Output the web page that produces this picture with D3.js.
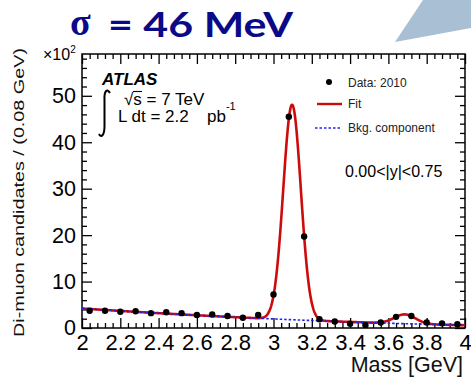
<!DOCTYPE html>
<html>
<head>
<meta charset="utf-8">
<script src="https://cdn.jsdelivr.net/npm/d3@7"></script>
<style>
  html, body { margin: 0; padding: 0; background: #fff; }
  svg { display: block; }
  text { font-family: "Liberation Sans", Arial, Helvetica, sans-serif; }
</style>
</head>
<body>
<svg id="chart" width="471" height="381"></svg>
<script>
// Di-muon invariant mass spectrum, J/psi region (bin width 0.08 GeV), counts in units of 10^2
const massBins = [2.04, 2.12, 2.20, 2.28, 2.36, 2.44, 2.52, 2.60, 2.68, 2.76, 2.84, 2.92,
                  3.00, 3.08, 3.16, 3.24, 3.32, 3.40, 3.48, 3.56, 3.64, 3.72, 3.80, 3.88, 3.96];
const candidates = [3.7, 3.7, 3.5, 3.6, 3.2, 3.4, 3.2, 2.8, 2.9, 2.6, 2.2, 2.8,
                    7.2, 45.5, 19.7, 1.9, 1.4, 0.9, 0.6, 1.2, 2.4, 2.6, 1.2, 1.0, 0.8];

// Fit model: two Gaussian resonances (J/psi, psi(2S)) on a quadratic background in (m - 2 GeV)
const fitPeakMass = [3.097, 3.686];
const fitPeakSigma = [0.046, 0.055];
const fitPeakHeight = [46.3, 2.0];
const bkgCoeffs = [4.2, -2.694, 0.447];

// Axis ticks
const xMajorTicks = [2.0, 2.2, 2.4, 2.6, 2.8, 3.0, 3.2, 3.4, 3.6, 3.8, 4.0];
const yMajorTicks = [0, 10, 20, 30, 40, 50];
const xDomain = [2, 4];
const yDomain = [0, 59];

const svg = d3.select("#chart");
const frame = { left: 82, right: 465, top: 54, bottom: 328 };

const x = d3.scaleLinear().domain(xDomain).range([frame.left, frame.right]);
const y = d3.scaleLinear().domain(yDomain).range([frame.bottom, frame.top]);

const bkg = m => { const t = m - 2; return bkgCoeffs[0] + bkgCoeffs[1] * t + bkgCoeffs[2] * t * t; };
const fit = m => bkg(m) + d3.sum(fitPeakMass, (mu, i) =>
  fitPeakHeight[i] * Math.exp(-0.5 * Math.pow((m - mu) / fitPeakSigma[i], 2)));

// slide decoration in the upper-right corner
svg.append("path")
  .attr("d", "M395,42 L423,0 L471,0 L471,28 Z")
  .attr("fill", "#a9bfd4");

// headline
const title = svg.append("g").attr("fill", "#0a0a88");
title.append("text")
  .attr("x", 70).attr("y", 34.5)
  .style("font-family", "'Liberation Serif', 'DejaVu Serif', serif")
  .style("font-weight", "bold").style("font-size", "38px")
  .text("σ");
title.append("text")
  .attr("x", 108).attr("y", 37)
  .style("font-family", "Lato, 'Open Sans', sans-serif")
  .style("font-weight", "bold").style("font-size", "34px")
  .attr("textLength", 185).attr("lengthAdjust", "spacingAndGlyphs")
  .text("= 46 MeV");

// minor tick values
const xMinor = d3.range(0, 51).map(i => 2 + i * 0.04).filter(v => !xMajorTicks.some(t => Math.abs(t - v) < 1e-6));
const yMinor = d3.range(0, 30).map(i => i * 2).filter(v => v % 10 !== 0 && v <= yDomain[1]);

const fmtX = d => String(+d.toFixed(1));

function styleAxis(g) {
  g.select(".domain").remove();
  g.selectAll(".tick line").attr("stroke", "#000").attr("stroke-width", 1.3);
}

// bottom axis (labels)
svg.append("g").attr("transform", `translate(0,${frame.bottom})`)
  .call(d3.axisBottom(x).tickValues(xMajorTicks).tickFormat(fmtX).tickSizeInner(-10).tickSizeOuter(0).tickPadding(6))
  .call(styleAxis)
  .call(g => g.selectAll(".tick text").attr("fill", "#000").style("font-size", "22px")
    .style("font-family", "'Liberation Sans', Arial, sans-serif").attr("dy", "0.72em"));
svg.append("g").attr("transform", `translate(0,${frame.bottom})`)
  .call(d3.axisBottom(x).tickValues(xMinor).tickFormat("").tickSizeInner(-5).tickSizeOuter(0))
  .call(styleAxis);
// top axis
svg.append("g").attr("transform", `translate(0,${frame.top})`)
  .call(d3.axisTop(x).tickValues(xMajorTicks).tickFormat("").tickSizeInner(-10).tickSizeOuter(0))
  .call(styleAxis);
svg.append("g").attr("transform", `translate(0,${frame.top})`)
  .call(d3.axisTop(x).tickValues(xMinor).tickFormat("").tickSizeInner(-5).tickSizeOuter(0))
  .call(styleAxis);
// left axis (labels)
svg.append("g").attr("transform", `translate(${frame.left},0)`)
  .call(d3.axisLeft(y).tickValues(yMajorTicks).tickFormat(d3.format("d")).tickSizeInner(-10).tickSizeOuter(0).tickPadding(6))
  .call(styleAxis)
  .call(g => g.selectAll(".tick text").attr("fill", "#000").style("font-size", "21.5px")
    .style("font-family", "'Liberation Sans', Arial, sans-serif"));
svg.append("g").attr("transform", `translate(${frame.left},0)`)
  .call(d3.axisLeft(y).tickValues(yMinor).tickFormat("").tickSizeInner(-5).tickSizeOuter(0))
  .call(styleAxis);
// right axis
svg.append("g").attr("transform", `translate(${frame.right},0)`)
  .call(d3.axisRight(y).tickValues(yMajorTicks).tickFormat("").tickSizeInner(-10).tickSizeOuter(0))
  .call(styleAxis);
svg.append("g").attr("transform", `translate(${frame.right},0)`)
  .call(d3.axisRight(y).tickValues(yMinor).tickFormat("").tickSizeInner(-5).tickSizeOuter(0))
  .call(styleAxis);

// plot frame
svg.append("rect")
  .attr("x", frame.left).attr("y", frame.top)
  .attr("width", frame.right - frame.left).attr("height", frame.bottom - frame.top)
  .attr("fill", "none").attr("stroke", "#000").attr("stroke-width", 1.5);

// exponent marker
const expo = svg.append("text").attr("x", 43).attr("y", 60).attr("fill", "#000").style("font-size", "16px");
expo.append("tspan").text("×10");
expo.append("tspan").attr("dy", -7).style("font-size", "10px").text("2");

// axis titles
svg.append("text")
  .attr("transform", "translate(24,337) rotate(-90)")
  .attr("fill", "#111").style("font-size", "15px")
  .attr("textLength", 289).attr("lengthAdjust", "spacingAndGlyphs")
  .text("Di-muon candidates / (0.08 GeV)");
svg.append("text")
  .attr("x", 463).attr("y", 372).attr("text-anchor", "end")
  .attr("fill", "#111").style("font-size", "21.5px")
  .text("Mass [GeV]");

// fit curves
const grid = d3.range(0, 1001).map(i => xDomain[0] + i * (xDomain[1] - xDomain[0]) / 1000);
const line = d3.line().x(d => x(d[0])).y(d => y(d[1]));
svg.append("clipPath").attr("id", "plotClip").append("rect")
  .attr("x", frame.left).attr("y", frame.top)
  .attr("width", frame.right - frame.left).attr("height", frame.bottom - frame.top);
const plot = svg.append("g").attr("clip-path", "url(#plotClip)");

plot.append("path")
  .datum(grid.map(m => [m, fit(m)]))
  .attr("d", line).attr("fill", "none")
  .attr("stroke", "#cc0c0c").attr("stroke-width", 2.6).attr("stroke-linejoin", "round");
plot.append("path")
  .datum(grid.map(m => [m, bkg(m)]))
  .attr("d", line).attr("fill", "none")
  .attr("stroke", "#2222ee").attr("stroke-width", 1.6).attr("stroke-dasharray", "2.5,2");

// data points
plot.selectAll("circle.data")
  .data(massBins.map((m, i) => [m, candidates[i]]))
  .join("circle").attr("class", "data")
  .attr("cx", d => x(d[0])).attr("cy", d => y(d[1]))
  .attr("r", 3.2).attr("fill", "#000");

// ATLAS label
svg.append("text").attr("x", 102).attr("y", 85)
  .style("font-size", "17px").style("font-weight", "bold").style("font-style", "italic")
  .attr("fill", "#000").text("ATLAS");
svg.append("path")
  .attr("d", "M110,93 C107,88 104,91 104.5,100 L104.5,126 C104.5,136 101,138 99,134")
  .attr("fill", "none").attr("stroke", "#000").attr("stroke-width", 2);
const lumi = svg.append("g").attr("fill", "#000").style("font-size", "17px");
lumi.append("text").attr("x", 124).attr("y", 105).text("√s = 7 TeV");
lumi.append("line").attr("x1", 133).attr("x2", 142).attr("y1", 91.5).attr("y2", 91.5)
  .attr("stroke", "#000").attr("stroke-width", 1.1);
lumi.append("text").attr("x", 118).attr("y", 122).text("L dt = 2.2");
const pb = lumi.append("text").attr("x", 207).attr("y", 122);
pb.append("tspan").text("pb");
pb.append("tspan").attr("dy", -12).style("font-size", "11px").text("-1");

// legend
const legend = svg.append("g").style("font-size", "12px").attr("fill", "#222");
legend.append("circle").attr("cx", 329).attr("cy", 82).attr("r", 3).attr("fill", "#000");
legend.append("text").attr("x", 348).attr("y", 87).text("Data: 2010");
legend.append("line").attr("x1", 317).attr("x2", 342).attr("y1", 104).attr("y2", 104)
  .attr("stroke", "#cc0c0c").attr("stroke-width", 2.4);
legend.append("text").attr("x", 348).attr("y", 108).text("Fit");
legend.append("line").attr("x1", 315).attr("x2", 340).attr("y1", 128).attr("y2", 128)
  .attr("stroke", "#2222ee").attr("stroke-width", 1.6).attr("stroke-dasharray", "2.5,2");
legend.append("text").attr("x", 348).attr("y", 132).text("Bkg. component");

svg.append("text").attr("x", 345).attr("y", 177)
  .style("font-size", "16px").attr("fill", "#000").text("0.00<|y|<0.75");
</script>
</body>
</html>
